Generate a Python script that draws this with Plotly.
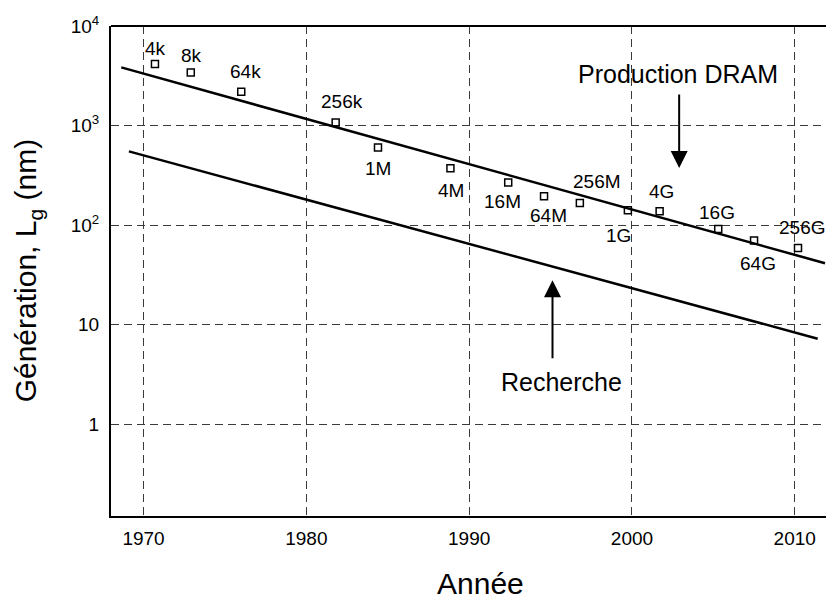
import numpy as np
import plotly.graph_objects as go

# ---- data ----
chip_labels = ["4k", "8k", "64k", "256k", "1M", "4M", "16M", "64M", "256M",
               "1G", "4G", "16G", "64G", "256G"]
chip_years = [1970.7, 1972.9, 1976.0, 1981.8, 1984.4, 1988.85, 1992.4, 1994.6,
              1996.8, 1999.75, 2001.7, 2005.3, 2007.5, 2010.2]
chip_lg = [4150, 3420, 2190, 1076, 604, 372, 269, 195, 167, 141, 138, 91.6, 70.3, 59]

prod_years = [1968.63, 2011.86]
prod_lg = [3840, 41.5]

research_years = [1969.1, 2011.41]
research_lg = [551, 7.25]

x_ticks = [1970, 1980, 1990, 2000, 2010]
y_tickvals = [1, 10, 100, 1000, 10000]
y_ticktext = ["1", "10", "10<sup>2</sup>", "10<sup>3</sup>", "10<sup>4</sup>"]

# label offsets (pixels) relative to each point: style only
label_dx = [1, 1, 4, 6, 0, 1, -6, 4, 17, -9, 2, -1, 4, 4]
label_dy = [16, 17, 20, 21, -21, -22, -19, -19, 22, -25, 20, 16, -23, 21]

FONT = "Liberation Sans, Arial, Helvetica, sans-serif"

fig = go.Figure()

fig.add_trace(go.Scatter(x=prod_years, y=prod_lg, mode="lines",
                         line=dict(color="black", width=2.5), showlegend=False))
fig.add_trace(go.Scatter(x=research_years, y=research_lg, mode="lines",
                         line=dict(color="black", width=2.5), showlegend=False))
fig.add_trace(go.Scatter(x=chip_years, y=chip_lg, mode="markers",
                         marker=dict(symbol="square-open", size=7, color="black",
                                     line=dict(width=1.5, color="black")),
                         showlegend=False))

annotations = []
for lab, xv, yv, dx, dy in zip(chip_labels, chip_years, chip_lg, label_dx, label_dy):
    annotations.append(dict(x=xv, y=np.log10(yv), xref="x", yref="y", text=lab,
                            showarrow=False, xshift=dx, yshift=dy,
                            font=dict(size=19, color="black", family=FONT)))

# arrows
annotations.append(dict(x=2002.9, y=2.574, xref="x", yref="y", ax=2002.9, ay=3.327,
                        axref="x", ayref="y", text="", showarrow=True, arrowhead=2,
                        arrowsize=1.7, arrowwidth=2, arrowcolor="black"))
annotations.append(dict(x=2002.85, y=3.521, xref="x", yref="y", text="Production DRAM",
                        showarrow=False, font=dict(size=25, color="black", family=FONT)))
annotations.append(dict(x=1995.12, y=1.446, xref="x", yref="y", ax=1995.12, ay=0.650,
                        axref="x", ayref="y", text="", showarrow=True, arrowhead=2,
                        arrowsize=1.7, arrowwidth=2, arrowcolor="black"))
annotations.append(dict(x=1995.7, y=0.422, xref="x", yref="y", text="Recherche",
                        showarrow=False, font=dict(size=25, color="black", family=FONT)))

# axis titles
annotations.append(dict(x=-0.117, y=0.5, xref="paper", yref="paper",
                        text="Génération, L<sub>g</sub> (nm)", textangle=-90,
                        showarrow=False, xanchor="center", yanchor="middle",
                        font=dict(size=30, color="black", family=FONT)))
annotations.append(dict(x=0.5166, y=-0.1387, xref="paper", yref="paper",
                        text="Année", showarrow=False, xanchor="center", yanchor="middle",
                        font=dict(size=30, color="black", family=FONT)))

grid_style = dict(showgrid=True, gridcolor="#3a3a3a", gridwidth=1, griddash="8px,5px")

fig.update_layout(
    width=826, height=599,
    margin=dict(l=111, r=0, t=26, b=83),
    paper_bgcolor="white", plot_bgcolor="white",
    font=dict(family=FONT, color="black", size=19),
    annotations=annotations,
    shapes=[dict(type="line", xref="paper", yref="paper", x0=0, x1=1, y0=1, y1=1,
                 line=dict(color="black", width=2))],
    xaxis=dict(range=[1968.0, 2011.92], tickvals=x_ticks, showline=True,
               linecolor="black", linewidth=2, zeroline=False,
               ticks="outside", ticklen=0, ticklabelstandoff=4,
               tickfont=dict(size=19), **grid_style),
    yaxis=dict(type="log", range=[-0.92, 4.0], tickvals=y_tickvals, ticktext=y_ticktext,
               showline=True, linecolor="black", linewidth=2, zeroline=False,
               ticks="outside", ticklen=0, ticklabelstandoff=6,
               tickfont=dict(size=19), **grid_style),
)

fig.write_html(
    "out.html",
    config={"displayModeBar": False},
    post_script="document.body.style.margin='0';document.body.style.overflow='hidden';",
)
